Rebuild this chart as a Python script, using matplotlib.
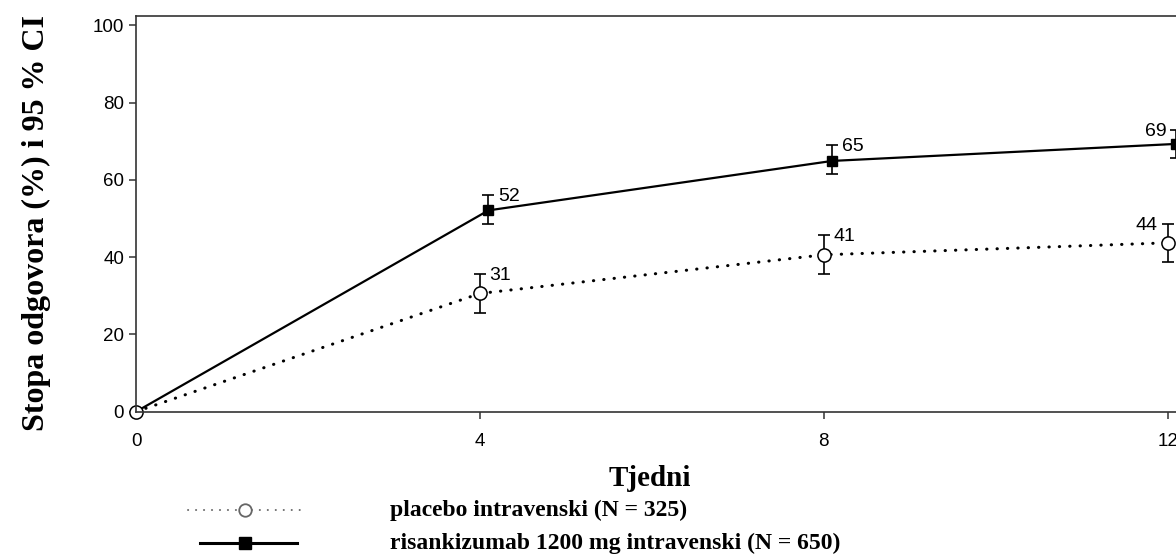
import numpy as np
import matplotlib
matplotlib.use("Agg")
import matplotlib.pyplot as plt
from matplotlib.lines import Line2D

# response rate by week, with 95 % CI
weeks = np.array([0, 4, 8, 12])
placebo = np.array([0, 30.6, 40.6, 43.7])
placebo_lo = np.array([0, 25.6, 35.6, 38.7])
placebo_hi = np.array([0, 35.6, 45.6, 48.5])
risa = np.array([0, 52.1, 64.9, 69.3])
risa_lo = np.array([0, 48.7, 61.4, 65.7])
risa_hi = np.array([0, 56.0, 69.0, 72.9])

labels = ["placebo intravenski (N = 325)",
          "risankizumab 1200 mg intravenski (N = 650)"]

sans = "Liberation Sans"
serif = "Liberation Serif"

W, H = 1176, 554
fig = plt.figure(figsize=(W / 100, H / 100), dpi=100)
ax = fig.add_axes([136 / W, (H - 411.7) / H, 1066 / W, (411.7 - 16) / H])
ax.set_xlim(0, 12.4)
ax.set_ylim(0, 102.4)

# small dodge so the two groups don't overlap
dodge = np.where(weeks > 0, 0.1, 0.0)
xr = weeks + dodge

ax.plot(weeks, placebo, color="black", lw=2.2, linestyle=(0, (0.1, 3.3)),
        dash_capstyle="round", zorder=2, clip_on=False)
ax.errorbar(weeks[1:], placebo[1:],
            yerr=[placebo[1:] - placebo_lo[1:], placebo_hi[1:] - placebo[1:]],
            fmt="none", ecolor="black", elinewidth=1.2, capsize=4.5,
            capthick=1.2, zorder=3, clip_on=False)
# baseline marker sits under the spines
ax.plot(weeks[:1], placebo[:1], linestyle="none", marker="o", ms=9.5,
        mfc="white", mec="black", mew=1.1, zorder=2.2, clip_on=False)
ax.plot(weeks[1:], placebo[1:], linestyle="none", marker="o", ms=9.5,
        mfc="white", mec="black", mew=1.1, zorder=4, clip_on=False)

ax.plot(xr, risa, color="black", lw=1.6, zorder=2, clip_on=False)
ax.errorbar(xr[1:], risa[1:],
            yerr=[risa[1:] - risa_lo[1:], risa_hi[1:] - risa[1:]],
            fmt="none", ecolor="black", elinewidth=1.2, capsize=4.5,
            capthick=1.2, zorder=3, clip_on=False)
ax.plot(xr[1:], risa[1:], linestyle="none", marker="s", ms=7.5,
        color="black", zorder=4, clip_on=False)

# value labels next to the upper CI cap, last week on the left
for x, v, hi in list(zip(weeks, placebo, placebo_hi))[1:] + list(zip(xr, risa, risa_hi))[1:]:
    left = x > 11
    ax.annotate(f"{v:.0f}", (x, hi), xytext=(-7 if left else 7, -1),
                textcoords="offset points", ha="right" if left else "left",
                va="center", fontsize=14, family=sans)

ax.spines["right"].set_visible(False)
for side in ["left", "top", "bottom"]:
    ax.spines[side].set_linewidth(1.2)
    ax.spines[side].set_color("#333333")

ax.set_xticks(weeks)
ax.set_yticks(np.arange(0, 101, 20))
ax.tick_params(axis="both", length=5, width=1.1, color="#333333",
               labelsize=13.5)
ax.tick_params(axis="x", pad=10.5)
ax.tick_params(axis="y", pad=3.5)
for t in ax.get_xticklabels() + ax.get_yticklabels():
    t.set_family(sans)

fig.text(36 / W, 1 - 223 / H, "Stopa odgovora (%) i 95 % CI", rotation=90,
         ha="center", va="center", fontsize=23, fontweight="bold", family=serif)
fig.text(650 / W, 1 - 486 / H, "Tjedni", ha="center", va="baseline",
         fontsize=21, fontweight="bold", family=serif)

# legend key drawn in pixel space
lax = fig.add_axes([0, 0, 1, 1])
lax.set_xlim(0, W)
lax.set_ylim(H, 0)
lax.axis("off")
lax.add_line(Line2D([188, 305], [510, 510], color="#666666", lw=1.4,
                    linestyle=(0, (0.1, 4)), dash_capstyle="round"))
lax.plot([245], [510], marker="o", ms=9, mfc="white", mec="#666666", mew=1.3)
lax.add_line(Line2D([200, 297], [543, 543], color="black", lw=2.2))
lax.plot([245], [543], marker="s", ms=9, color="black")
for y, lab in zip([510, 543], labels):
    lax.text(390, y, lab, ha="left", va="center", fontsize=17,
             fontweight="bold", family=serif)

fig.savefig("out.png", dpi=100)
